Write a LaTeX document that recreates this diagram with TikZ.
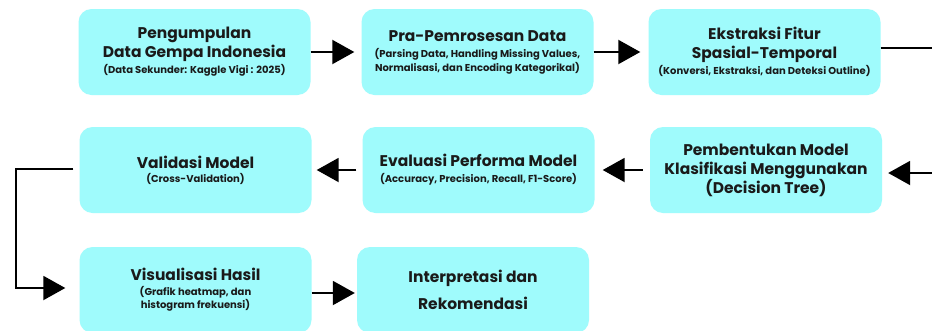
\documentclass[tikz,border=0pt]{standalone}
\usepackage{fontspec}
\setmainfont{Poppins}
\usetikzlibrary{arrows.meta}
\definecolor{boxfill}{HTML}{9FFBFC}
\definecolor{txt}{HTML}{1A1A1A}
\newcommand{\sbt}{\fontsize{10}{14}\selectfont}
\begin{document}
\begin{tikzpicture}[x=1pt,y=-1pt,
  stepbox/.style={draw=none,fill=boxfill,rounded corners=13pt,minimum width=232pt,minimum height=86pt,align=center,text=txt,inner sep=0pt,font=\fontsize{15.5}{19}\selectfont\bfseries},
  conn/.style={line width=2pt,draw=black,-{Triangle[length=22pt,width=24pt]}},
  plain/.style={line width=2pt,draw=black}]
\useasboundingbox (0,0) rectangle (932,330);
\fill[white] (0,0) rectangle (932,330);
\node[stepbox] (b1) at (194.5,52) {Pengumpulan\\Data Gempa Indonesia\\[-3pt]\sbt (Data Sekunder: Kaggle Vigi : 2025)};
\node[stepbox] (b2) at (477.5,52) {Pra-Pemrosesan Data\\[-3pt]\sbt (Parsing Data, Handling Missing Values,\\[-5pt]\sbt Normalisasi, dan Encoding Kategorikal)};
\node[stepbox] (b3) at (764.5,52) {Ekstraksi Fitur\\Spasial-Temporal\\[-3pt]\sbt (Konversi, Ekstraksi, dan Deteksi Outline)};
\node[stepbox] (b4) at (766,170) {Pembentukan Model\\Klasifikasi Menggunakan\\(Decision Tree)};
\node[stepbox] (b5) at (478.5,170) {Evaluasi Performa Model\\[-3pt]\sbt (Accuracy, Precision, Recall, F1-Score)};
\node[stepbox] (b6) at (195.5,170) {Validasi Model\\[-5pt]\sbt (Cross-Validation)};
\node[stepbox] (b7) at (195.5,290) {Visualisasi Hasil\\[-4pt]\sbt (Grafik heatmap, dan\\[-6pt]\sbt histogram frekuensi)};
\node[stepbox] (b8) at (473,290) {Interpretasi dan\\[8pt]Rekomendasi};
\coordinate (r1) at (950,48);
\coordinate (r2) at (950,173);
\coordinate (l1) at (16,169);
\draw[conn,shorten >=7pt] (b1.east) -- (b2.west);
\draw[conn,shorten >=8pt] (b2.east) -- (b3.west);
\draw[plain] (b3.east |- r1) -- (r1) -- (r2);
\draw[conn,shorten >=6pt] (r2) -- (b4.east |- r2);
\draw[conn,shorten <=7pt,shorten >=8pt] (b4.west) -- (b5.east);
\draw[conn,shorten <=6pt,shorten >=5pt] (b5.west) -- (b6.east);
\draw[conn,shorten >=14pt] ([xshift=-6pt]b6.west |- l1) -- (l1) |- ([yshift=2pt]b7.west);
\draw[conn,shorten >=2pt] ([yshift=-3pt]b7.east) -- ([yshift=-3pt]b8.west);
\end{tikzpicture}
\end{document}
